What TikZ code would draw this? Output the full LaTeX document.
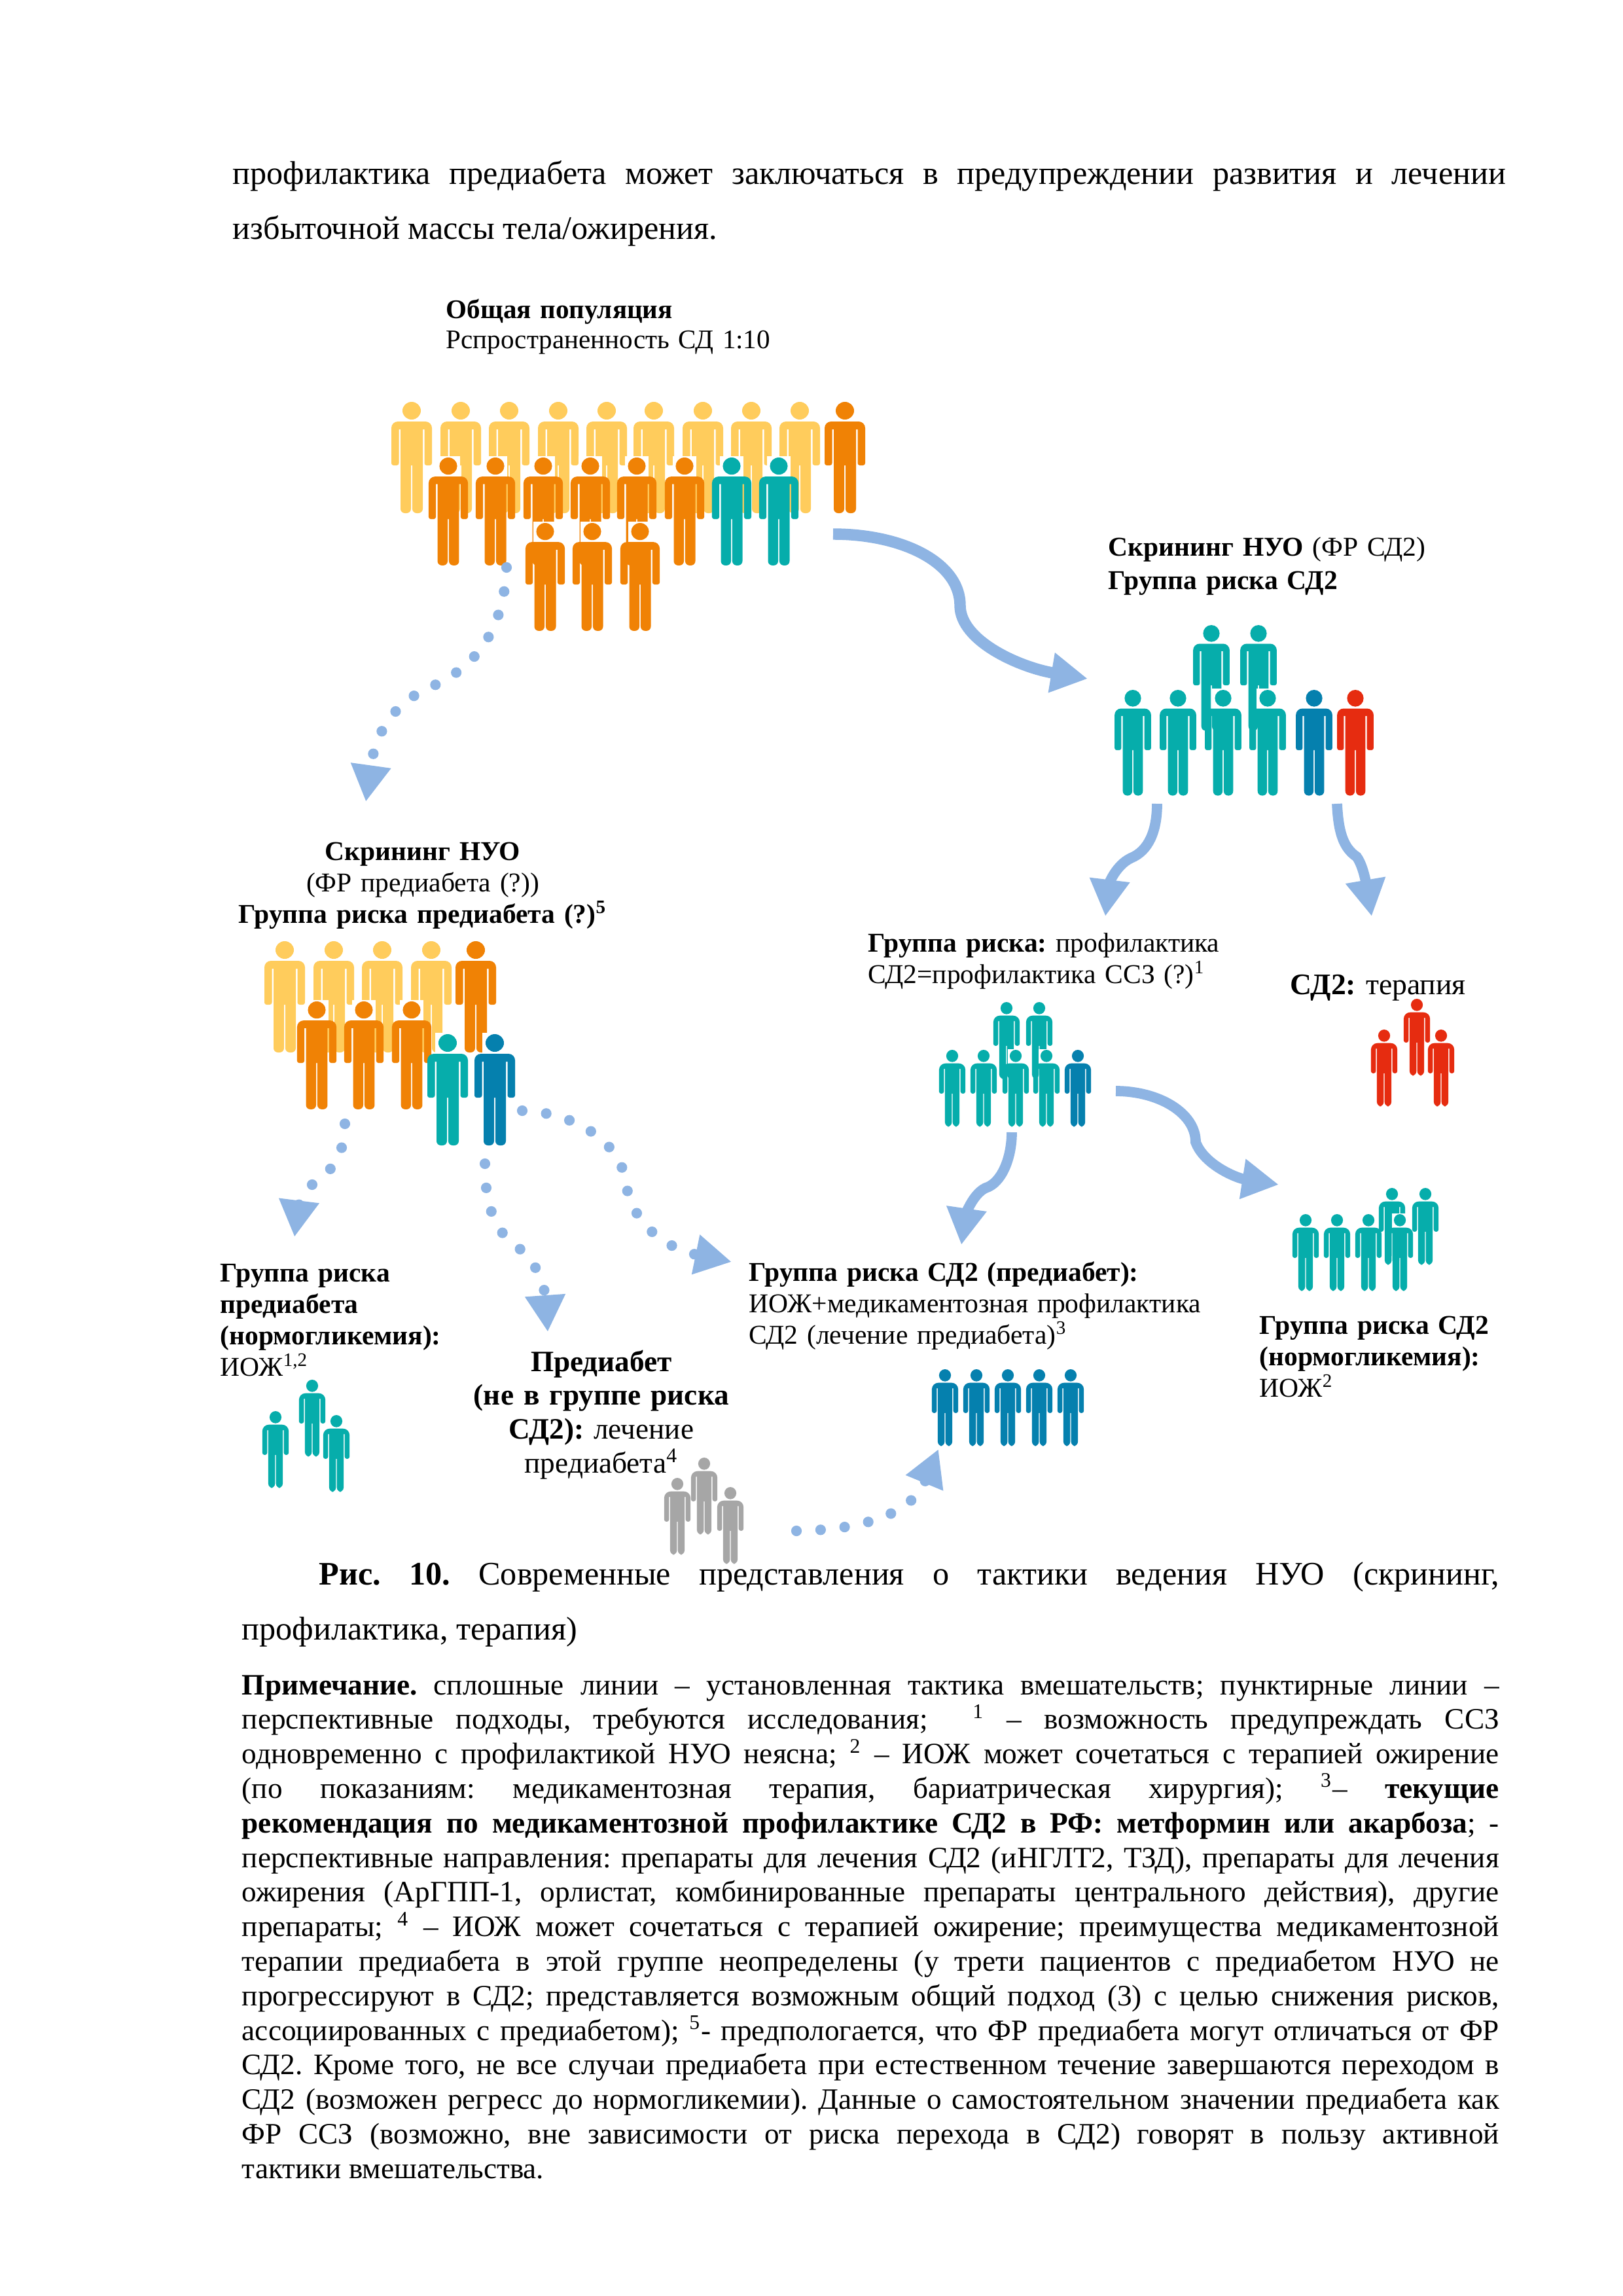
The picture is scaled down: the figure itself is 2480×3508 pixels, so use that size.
\documentclass[tikz,border=0pt]{standalone}
\usepackage{fontspec}
\setmainfont{Liberation Serif}
\usetikzlibrary{arrows.meta}

\definecolor{popGold}{HTML}{FFCC5C}
\definecolor{popOrange}{HTML}{F08205}
\definecolor{popTeal}{HTML}{06ADAB}
\definecolor{popBlue}{HTML}{0580AE}
\definecolor{popRed}{HTML}{E62C10}
\definecolor{popGrey}{HTML}{A6A6A6}
\definecolor{flowBlue}{HTML}{8EB4E3}

\tikzset{
  person/.pic={
    \fill[white] (-19,-2) rectangle (19,31);
    \fill[pic actions] (0,13.5) ellipse [x radius=14,y radius=13.5];
    \fill[pic actions] (0,30) [rounded corners=2.4pt] -- (31,30) [rounded corners=.8pt] -- (31,97) -- (19.5,97) [sharp corners] -- (19.5,42) -- (17,42) [rounded corners=1.6pt] -- (17,170) -- (1,170) [sharp corners] -- (1,97) -- (-1,97) [rounded corners=1.6pt] -- (-1,170) -- (-17,170) [sharp corners] -- (-17,42) -- (-19.5,42) [rounded corners=.8pt] -- (-19.5,97) -- (-31,97) [rounded corners=2.4pt] -- (-31,30) -- cycle;
  },
  tall/.style={xscale=.97,yscale=.97},
  mid/.style={xscale=.9,yscale=.95},
  small/.style={xscale=.65,yscale=.69},
  lbl/.style={anchor=base west,inner sep=0pt,text width=620pt,align=left,font=\fontsize{10}{11.6}\selectfont\frenchspacing},
  lblmid/.style={lbl,anchor=base,text width=300pt,align=center},
  body/.style={anchor=base west,inner sep=0pt,align=justify,font=\fontsize{12.1}{20.4}\selectfont\frenchspacing},
  solidflow/.style={draw=flowBlue,line width=3.8pt,-{Triangle[length=13.5pt,width=14pt]}},
  dotflow/.style={draw=flowBlue,line width=3.9pt,line cap=round,dash pattern=on 0pt off 8.9pt,-{Triangle[length=13.5pt,width=14pt]}},
}

\begin{document}
\begin{tikzpicture}[x=0.2409pt,y=-0.2409pt]
  \useasboundingbox (0,0) rectangle (2480,3508);

  % Page text above the figure
  \node[body,text width=468.6pt] (topText) at (355,281) {профилактика предиабета может заключаться в предупреждении развития и лечении\linebreak избыточной массы тела/ожирения.};

  % General population
  \node[lbl,font=\fontsize{9.9}{11.1}\selectfont] (genLabel) at (681,486) {\textbf{Общая популяция}\\Рспространенность СД 1:10};
  \foreach \cx in {629,704,778,853,927,999,1074,1148,1222}
    \pic[fill=popGold] at (\cx,614) {person};
  \pic[fill=popOrange] at (1291,614) {person};
  \foreach \cx in {685,757,830,902,973,1046}
    \pic[fill=popOrange,tall] at (\cx,699) {person};
  \foreach \cx in {1118,1190}
    \pic[fill=popTeal,tall] at (\cx,699) {person};
  \foreach \cx in {833,905,978}
    \pic[fill=popOrange,tall] at (\cx,799) {person};

  % Right: screening for type 2 risk
  \node[lbl,font=\fontsize{10}{12.3}\selectfont\frenchspacing] (riskLabel) at (1693,849) {\textbf{Скрининг НУО} (ФР СД2)\\\textbf{Группа риска СД2}};
  \foreach \cx in {1851,1923}
    \pic[fill=popTeal,mid] at (\cx,955) {person};
  \foreach \cx in {1731,1800,1869,1937}
    \pic[fill=popTeal,mid] at (\cx,1054) {person};
  \pic[fill=popBlue,mid] at (2008,1054) {person};
  \pic[fill=popRed,mid] at (2071,1054) {person};

  % Left: screening for prediabetes risk
  \node[lblmid] (preLabel) at (646,1314) {\textbf{Скрининг НУО}\\(ФР предиабета (?))\\\textbf{Группа риска предиабета (?)\textsuperscript{5}}};
  \foreach \cx in {435,510,584,659}
    \pic[fill=popGold] at (\cx,1438) {person};
  \pic[fill=popOrange] at (727,1438) {person};
  \foreach \cx in {484,556,629}
    \pic[fill=popOrange,tall] at (\cx,1530) {person};
  \pic[fill=popTeal] at (684,1580) {person};
  \pic[fill=popBlue] at (756,1580) {person};

  % Risk group, prevention
  \node[lbl] (preventLabel) at (1326,1454) {\textbf{Группа риска:} профилактика\\СД2=профилактика ССЗ (?)\textsuperscript{1}};
  \foreach \cx in {1538,1588}
    \pic[fill=popTeal,small] at (\cx,1531) {person};
  \foreach \cx in {1455,1503,1552,1599}
    \pic[fill=popTeal,small] at (\cx,1604) {person};
  \pic[fill=popBlue,small] at (1647,1604) {person};

  % Therapy
  \node[lbl,font=\fontsize{11}{12}\selectfont\frenchspacing] (therapyLabel) at (1971,1519) {\textbf{СД2:} терапия};
  \pic[fill=popRed,small] at (2165,1526) {person};
  \pic[fill=popRed,small] at (2115,1573) {person};
  \pic[fill=popRed,small] at (2202,1573) {person};

  % Risk group with normal glucose
  \foreach \cx in {2127,2178}
    \pic[fill=popTeal,small] at (\cx,1815) {person};
  \foreach \cx in {1995,2043,2091,2139}
    \pic[fill=popTeal,small] at (\cx,1855) {person};
  \node[lbl] (normLabel) at (1924,2038) {\textbf{Группа риска СД2}\\\textbf{(нормогликемия):}\\ИОЖ\textsuperscript{2}};

  % Risk group with prediabetes
  \node[lbl] (drugLabel) at (1144,1957) {\textbf{Группа риска СД2 (предиабет):}\\ИОЖ+медикаментозная профилактика\\СД2 (лечение предиабета)\textsuperscript{3}};
  \foreach \cx in {1444,1492,1540,1588,1636}
    \pic[fill=popBlue,small] at (\cx,2092) {person};

  % Prediabetes risk group with normal glucose
  \node[lbl] (lowLabel) at (336,1958) {\textbf{Группа риска}\\\textbf{предиабета}\\\textbf{(нормогликемия):}\\ИОЖ\textsuperscript{1,2}};
  \pic[fill=popTeal,small] at (477,2108) {person};
  \pic[fill=popTeal,small] at (421,2156) {person};
  \pic[fill=popTeal,small] at (514,2162) {person};

  % Prediabetes outside the risk group
  \node[lblmid,font=\fontsize{10.9}{12.5}\selectfont\frenchspacing] (treatLabel) at (919,2095) {\textbf{Предиабет}\\\textbf{(не в группе риска}\\\textbf{СД2):} лечение\\предиабета\textsuperscript{4}};
  \pic[fill=popGrey,small] at (1076,2227) {person};
  \pic[fill=popGrey,small] at (1035,2258) {person};
  \pic[fill=popGrey,small] at (1116,2272) {person};

  % Ends of the arrows
  \coordinate (genRight) at (1273,816);
  \coordinate (riskIn) at (1662,1037);
  \coordinate (genDown) at (774,867);
  \coordinate (preIn) at (559,1225);
  \coordinate (riskDownL) at (1768,1228);
  \coordinate (preventIn) at (1689,1400);
  \coordinate (riskDownR) at (2043,1228);
  \coordinate (therapyIn) at (2096,1400);
  \coordinate (preventRight) at (1705,1667);
  \coordinate (normIn) at (1954,1810);
  \coordinate (preventDown) at (1546,1730);
  \coordinate (drugIn) at (1469,1902);
  \coordinate (treatOut) at (1217,2339);
  \coordinate (blueIn) at (1434,2214);
  \coordinate (preDownL) at (527,1717);
  \coordinate (lowIn) at (450,1890);
  \coordinate (preDownM) at (741,1778);
  \coordinate (treatIn) at (837,2035);
  \coordinate (preRight) at (798,1697);
  \coordinate (drugInL) at (1118,1928);

  % Solid arrows
  \draw[solidflow,line width=4.2pt] (genRight) .. controls (1380,816) and (1467,860) .. (1467,925) .. controls (1467,980) and (1560,1020) .. (riskIn);
  \draw[solidflow] (riskDownL) .. controls (1768,1270) and (1755,1300) .. (1728,1311) .. controls (1705,1322) and (1695,1350) .. (preventIn);
  \draw[solidflow] (riskDownR) .. controls (2045,1270) and (2052,1295) .. (2073,1309) .. controls (2085,1325) and (2090,1365) .. (therapyIn);
  \draw[solidflow] (preventRight) .. controls (1770,1667) and (1827,1700) .. (1827,1745) .. controls (1840,1780) and (1890,1800) .. (normIn);
  \draw[solidflow] (preventDown) .. controls (1546,1770) and (1530,1808) .. (1506,1815) .. controls (1485,1825) and (1475,1860) .. (drugIn);

  % Dotted arrows
  \draw[dotflow] (genDown) .. controls (770,960) and (730,1015) .. (666,1046) .. controls (610,1068) and (575,1110) .. (preIn);
  \draw[dotflow] (preDownL) .. controls (526,1770) and (505,1790) .. (478,1809) .. controls (460,1825) and (455,1850) .. (lowIn);
  \draw[dotflow] (preDownM) .. controls (741,1850) and (760,1885) .. (794,1908) .. controls (820,1928) and (832,1965) .. (treatIn);
  \draw[dotflow] (preRight) .. controls (880,1700) and (945,1745) .. (955,1800) .. controls (965,1880) and (1030,1910) .. (drugInL);
  \draw[dotflow] (treatOut) .. controls (1300,2338) and (1390,2320) .. (blueIn);

  % Caption
  \node[body,text width=462.8pt] (capText) at (369,2421) {\hspace*{28.4pt}\textbf{Рис. 10.} Современные представления о тактики ведения НУО (скрининг,\linebreak профилактика, терапия)};

  % Note
  \node[body,text width=462.8pt,font=\fontsize{10.9}{12.72}\selectfont\frenchspacing] (noteText) at (369,2589) {\textbf{Примечание.} сплошные линии – установленная тактика вмешательств; пунктирные линии –\linebreak перспективные подходы, требуются исследования; \ \textsuperscript{1} – возможность предупреждать ССЗ\linebreak одновременно с профилактикой НУО неясна; \textsuperscript{2} – ИОЖ может сочетаться с терапией ожирение\linebreak (по показаниям: медикаментозная терапия, бариатрическая хирургия); \textsuperscript{3}– \textbf{текущие}\linebreak \textbf{рекомендация по медикаментозной профилактике СД2 в РФ: метформин или акарбоза}; -\linebreak перспективные направления: препараты для лечения СД2 (иНГЛТ2, ТЗД), препараты для лечения\linebreak ожирения (АрГПП-1, орлистат, комбинированные препараты центрального действия), другие\linebreak препараты; \textsuperscript{4} – ИОЖ может сочетаться с терапией ожирение; преимущества медикаментозной\linebreak терапии предиабета в этой группе неопределены (у трети пациентов с предиабетом НУО не\linebreak прогрессируют в СД2; представляется возможным общий подход (3) с целью снижения рисков,\linebreak ассоциированных с предиабетом); \textsuperscript{5}- предпологается, что ФР предиабета могут отличаться от ФР\linebreak СД2. Кроме того, не все случаи предиабета при естественном течение завершаются переходом в\linebreak СД2 (возможен регресс до нормогликемии). Данные о самостоятельном значении предиабета как\linebreak ФР ССЗ (возможно, вне зависимости от риска перехода в СД2) говорят в пользу активной\linebreak тактики вмешательства.};
\end{tikzpicture}
\end{document}
